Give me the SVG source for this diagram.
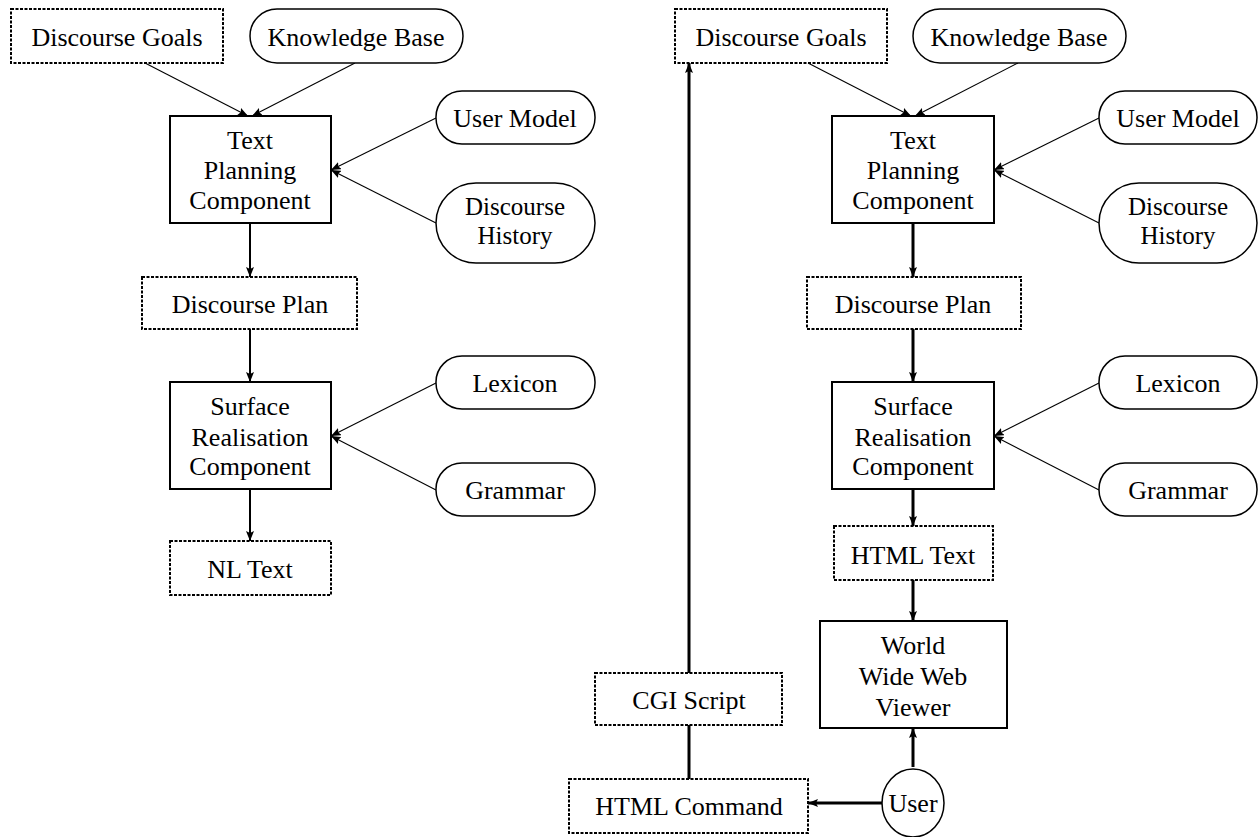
<svg xmlns="http://www.w3.org/2000/svg" width="1259" height="837" viewBox="0 0 1259 837">
<defs>
<marker id="ah" markerUnits="userSpaceOnUse" markerWidth="11" markerHeight="8" refX="10" refY="4" orient="auto">
<path d="M0,0 L10,4 L0,8 L2,4 z" fill="#000"/>
</marker>
<style>
text{font-family:"Liberation Serif","Times New Roman",serif;font-size:26px;fill:#000;text-anchor:middle;dominant-baseline:central}
.sm{font-size:25px}
.solid{fill:#fff;stroke:#000;stroke-width:2}
.dash{fill:#fff;stroke:#000;stroke-width:2;stroke-dasharray:3 1.5}
.stad{fill:#fff;stroke:#000;stroke-width:1.5}
.thin{stroke:#000;stroke-width:1.1;fill:none}
.mid{stroke:#000;stroke-width:2;fill:none}
.thick{stroke:#000;stroke-width:3;fill:none}
</style>
</defs>
<rect width="1259" height="837" fill="#fff"/>
<g id="connectors">
<line class="thin" x1="145" y1="63" x2="248" y2="116" marker-end="url(#ah)"/>
<line class="thin" x1="355" y1="63" x2="252" y2="116" marker-end="url(#ah)"/>
<line class="thin" x1="436" y1="118" x2="331" y2="170" marker-end="url(#ah)"/>
<line class="thin" x1="436" y1="223" x2="331" y2="170" marker-end="url(#ah)"/>
<line class="mid" x1="250" y1="223" x2="250" y2="277" marker-end="url(#ah)"/>
<line class="mid" x1="250" y1="329" x2="250" y2="382" marker-end="url(#ah)"/>
<line class="thin" x1="436" y1="383" x2="331" y2="436" marker-end="url(#ah)"/>
<line class="thin" x1="436" y1="490" x2="331" y2="436" marker-end="url(#ah)"/>
<line class="mid" x1="250" y1="489" x2="250" y2="541" marker-end="url(#ah)"/>
<line class="thin" x1="808" y1="63" x2="911" y2="116" marker-end="url(#ah)"/>
<line class="thin" x1="1018" y1="63" x2="915" y2="116" marker-end="url(#ah)"/>
<line class="thin" x1="1099" y1="118" x2="994" y2="170" marker-end="url(#ah)"/>
<line class="thin" x1="1099" y1="223" x2="994" y2="170" marker-end="url(#ah)"/>
<line class="thick" x1="913" y1="223" x2="913" y2="277" marker-end="url(#ah)"/>
<line class="thick" x1="913" y1="329" x2="913" y2="382" marker-end="url(#ah)"/>
<line class="thin" x1="1099" y1="383" x2="994" y2="436" marker-end="url(#ah)"/>
<line class="thin" x1="1099" y1="490" x2="994" y2="436" marker-end="url(#ah)"/>
<line class="thick" x1="913" y1="489" x2="913" y2="526" marker-end="url(#ah)"/>
<line class="thick" x1="913" y1="580" x2="913" y2="621" marker-end="url(#ah)"/>
<line class="thick" x1="913" y1="767" x2="913" y2="728" marker-end="url(#ah)"/>
<line class="thick" x1="882" y1="803" x2="808" y2="803" marker-end="url(#ah)"/>
<line class="thick" x1="689" y1="779" x2="689" y2="725"/>
<line class="thick" x1="689" y1="673" x2="689" y2="63" marker-end="url(#ah)"/>
</g>
<g id="l-goals"><rect class="dash" x="11" y="9" width="212" height="54"/><text x="117" y="37">Discourse Goals</text></g>
<g id="l-kb"><rect class="stad" x="250" y="9" width="213" height="54" rx="27"/><text x="356" y="37">Knowledge Base</text></g>
<g id="l-tp"><rect class="solid" x="170" y="116" width="161" height="107"/><text x="250" y="140">Text</text><text x="250" y="170">Planning</text><text x="250" y="200">Component</text></g>
<g id="l-um"><rect class="stad" x="436" y="91" width="159" height="53" rx="26"/><text x="515" y="118">User Model</text></g>
<g id="l-dh"><rect class="stad" x="436" y="183" width="159" height="80" rx="40"/><text class="sm" x="515" y="206">Discourse</text><text class="sm" x="515" y="235">History</text></g>
<g id="l-dp"><rect class="dash" x="142" y="277" width="215" height="52"/><text x="250" y="304">Discourse Plan</text></g>
<g id="l-sr"><rect class="solid" x="170" y="382" width="161" height="107"/><text x="250" y="406">Surface</text><text x="250" y="437">Realisation</text><text x="250" y="466">Component</text></g>
<g id="l-lex"><rect class="stad" x="436" y="356" width="159" height="53" rx="26"/><text x="515" y="383">Lexicon</text></g>
<g id="l-gram"><rect class="stad" x="436" y="463" width="159" height="53" rx="26"/><text x="515" y="490">Grammar</text></g>
<g id="l-nl"><rect class="dash" x="170" y="541" width="161" height="54"/><text x="250" y="569">NL Text</text></g>
<g id="r-goals"><rect class="dash" x="675" y="9" width="212" height="54"/><text x="781" y="37">Discourse Goals</text></g>
<g id="r-kb"><rect class="stad" x="913" y="9" width="213" height="54" rx="27"/><text x="1019" y="37">Knowledge Base</text></g>
<g id="r-tp"><rect class="solid" x="832" y="116" width="162" height="107"/><text x="913" y="140">Text</text><text x="913" y="170">Planning</text><text x="913" y="200">Component</text></g>
<g id="r-um"><rect class="stad" x="1099" y="91" width="158" height="53" rx="26"/><text x="1178" y="118">User Model</text></g>
<g id="r-dh"><rect class="stad" x="1099" y="183" width="158" height="80" rx="40"/><text class="sm" x="1178" y="206">Discourse</text><text class="sm" x="1178" y="235">History</text></g>
<g id="r-dp"><rect class="dash" x="807" y="277" width="214" height="52"/><text x="913" y="304">Discourse Plan</text></g>
<g id="r-sr"><rect class="solid" x="832" y="382" width="162" height="107"/><text x="913" y="406">Surface</text><text x="913" y="437">Realisation</text><text x="913" y="466">Component</text></g>
<g id="r-lex"><rect class="stad" x="1099" y="356" width="158" height="53" rx="26"/><text x="1178" y="383">Lexicon</text></g>
<g id="r-gram"><rect class="stad" x="1099" y="463" width="158" height="53" rx="26"/><text x="1178" y="490">Grammar</text></g>
<g id="r-html"><rect class="dash" x="834" y="526" width="159" height="54"/><text x="913" y="555">HTML Text</text></g>
<g id="r-www"><rect class="solid" x="820" y="621" width="187" height="107"/><text x="913" y="645">World</text><text x="913" y="676">Wide Web</text><text x="913" y="707">Viewer</text></g>
<g id="r-cgi"><rect class="dash" x="595" y="673" width="187" height="52"/><text x="689" y="700">CGI Script</text></g>
<g id="r-cmd"><rect class="dash" x="569" y="779" width="239" height="54"/><text x="689" y="806">HTML Command</text></g>
<g id="r-user"><ellipse fill="#fff" stroke="#000" stroke-width="1.5" cx="913" cy="803" rx="31" ry="34"/><text x="913" y="803">User</text></g>
</svg>
